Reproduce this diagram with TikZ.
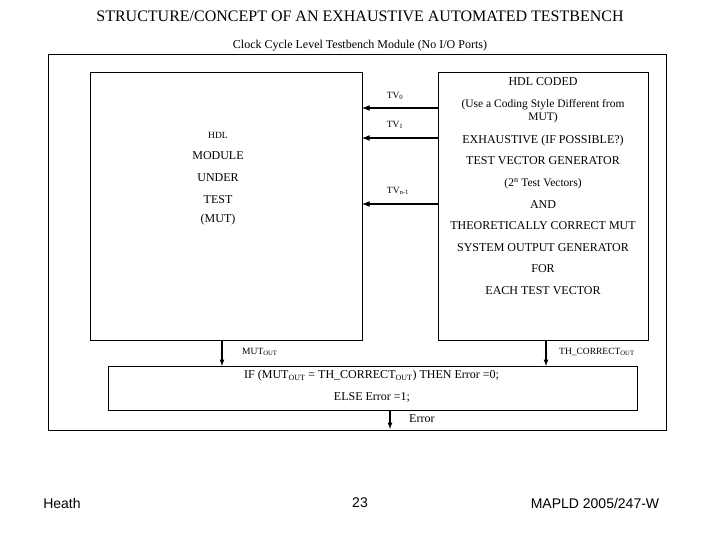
\documentclass[tikz,border=0pt]{standalone}
\usepackage{fontspec}
\setmainfont{Liberation Serif}
\newfontfamily\footfont{Liberation Sans}
\begin{document}
\begin{tikzpicture}[x=1pt,y=-1pt,
  box/.style={draw,line width=0.8pt},
  t/.style={font=\fontsize{12}{13.5}\selectfont,inner sep=0pt},
  s/.style={font=\fontsize{9.5}{11}\selectfont,inner sep=0pt},
  arr/.style={-latex,line width=1.6pt},
  darr/.style={-latex,line width=1.2pt}]
\useasboundingbox (0,0) rectangle (720,540);
\node[font=\fontsize{16}{18}\selectfont,inner sep=0pt] (title) at (360,16) {STRUCTURE/CONCEPT OF AN EXHAUSTIVE AUTOMATED TESTBENCH};
\node[t] (sub) at (360,46) {Clock Cycle Level Testbench Module (No I/O Ports)};
\draw[box] (48,54) rectangle (666,430);
\node[box,minimum width=272,minimum height=268,anchor=north west] (mut) at (90,72) {};
\node[box,minimum width=210,minimum height=268,anchor=north west] (gen) at (438,72) {};
\node[box,minimum width=529,minimum height=44,anchor=north west] (cmp) at (108,366) {};
% left texts
\node[s] (l1) at (218,135) {HDL};
\node[t] (l2) at (218,156) {MODULE};
\node[t] (l3) at (218,178) {UNDER};
\node[t] (l4) at (218,200) {TEST};
\node[t] (l5) at (218,220) {(MUT)};
% right texts
\node[t] (r1) at (543,82) {HDL CODED};
\node[t,align=center,font=\fontsize{11.5}{13}\selectfont] (r2) at (543,111) {(Use a Coding Style Different from\\MUT)};
\node[t] (r3) at (543,141) {EXHAUSTIVE (IF POSSIBLE?)};
\node[t] (r4) at (543,161) {TEST VECTOR GENERATOR};
\node[t,font=\fontsize{11.5}{13}\selectfont] (r5) at (543,184) {(2\textsuperscript{n} Test Vectors)};
\node[t] (r6) at (543,205) {AND};
\node[t] (r7) at (543,226) {THEORETICALLY CORRECT MUT};
\node[t] (r8) at (543,248) {SYSTEM OUTPUT GENERATOR};
\node[t] (r9) at (543,269) {FOR};
\node[t] (r10) at (543,291) {EACH TEST VECTOR};
% TV arrows
\coordinate (a0) at (438,108); \coordinate (b0) at (362,108);
\coordinate (a1) at (438,138); \coordinate (b1) at (362,138);
\coordinate (a2) at (438,204); \coordinate (b2) at (362,204);
\draw[arr] (a0) -- (b0); \draw[arr] (a1) -- (b1); \draw[arr] (a2) -- (b2);
\node[s] (tv0) at (395,96) {TV\textsubscript{0}};
\node[s] (tv1) at (395,125) {TV\textsubscript{1}};
\node[s] (tvn) at (398,191) {TV\textsubscript{n-1}};
% down arrows
\coordinate (m1) at (222,340); \coordinate (m2) at (222,366);
\coordinate (g1) at (546,340); \coordinate (g2) at (546,366);
\draw[darr] (m1) -- (m2); \draw[darr] (g1) -- (g2);
\node[s,anchor=west] (mo) at (242,352) {MUT\textsubscript{OUT}};
\node[s,anchor=west] (go) at (559,352) {TH\_CORRECT\textsubscript{OUT}};
\node[t,anchor=west] (if) at (244,376) {IF (MUT\textsubscript{OUT} = TH\_CORRECT\textsubscript{OUT}) THEN Error =0;};
\node[t] (el) at (372,397) {ELSE Error =1;};
\coordinate (e1) at (390,410); \coordinate (e2) at (390,429);
\draw[darr] (e1) -- (e2);
\node[t,anchor=west] (err) at (409,419) {Error};
% footer
\node[font=\footfont\fontsize{14}{16}\selectfont,inner sep=0pt] (f1) at (62,503) {Heath};
\node[font=\footfont\fontsize{14}{16}\selectfont,inner sep=0pt] (f2) at (360,503) {23};
\node[font=\footfont\fontsize{14}{16}\selectfont,inner sep=0pt] (f3) at (595,503) {MAPLD 2005/247-W};
\end{tikzpicture}
\end{document}
